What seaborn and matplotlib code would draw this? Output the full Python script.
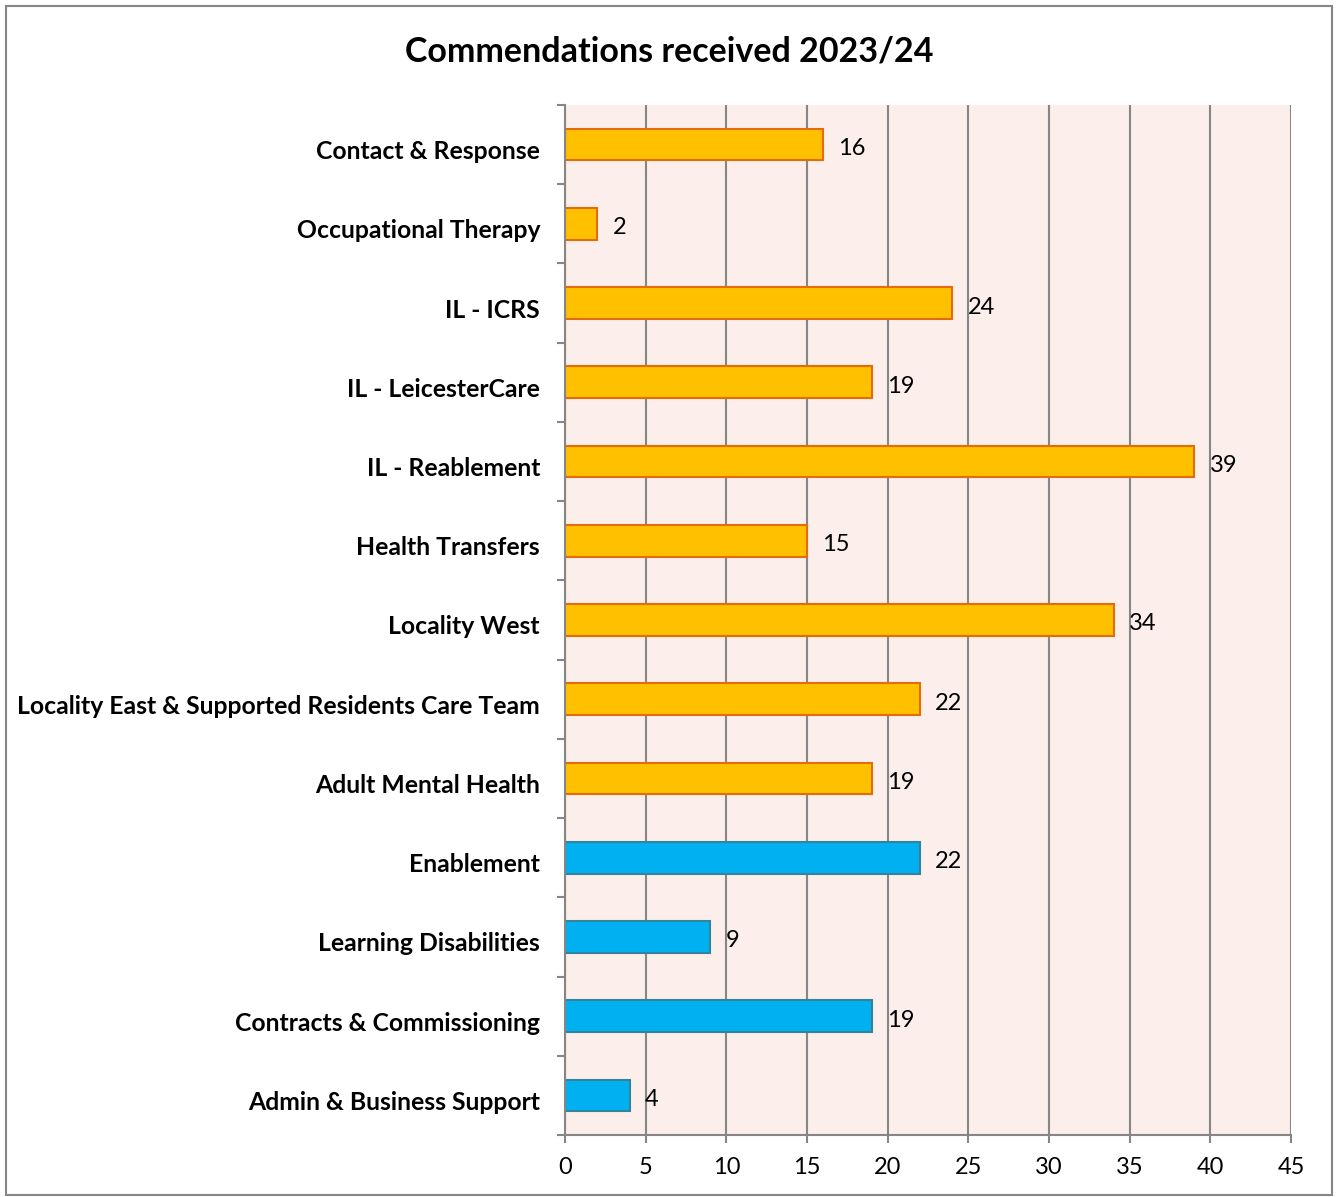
import numpy as np
import pandas as pd
import matplotlib
matplotlib.use('Agg')
import matplotlib.pyplot as plt
import matplotlib.transforms as mtransforms
import seaborn as sns
from matplotlib.patches import Rectangle

# chart data
teams = ['Contact & Response', 'Occupational Therapy', 'IL - ICRS', 'IL - LeicesterCare',
         'IL - Reablement', 'Health Transfers', 'Locality West',
         'Locality East & Supported Residents Care Team', 'Adult Mental Health',
         'Enablement', 'Learning Disabilities', 'Contracts & Commissioning',
         'Admin & Business Support']
commendations = [16, 2, 24, 19, 39, 15, 34, 22, 19, 22, 9, 19, 4]
groups = ['A'] * 9 + ['B'] * 4
x_ticks = [0, 5, 10, 15, 20, 25, 30, 35, 40, 45]

fill_colors = {'A': '#FFC000', 'B': '#00B0F0'}
edge_colors = {'A': '#E46C0A', 'B': '#31849B'}
grey = '#868686'

sns.set_theme(style='white')
plt.rcParams['font.family'] = ['Lato', 'DejaVu Sans']
plt.rcParams['text.color'] = 'black'
plt.rcParams['xtick.color'] = 'black'
plt.rcParams['ytick.color'] = 'black'

df = pd.DataFrame({'team': teams, 'count': commendations, 'group': groups})

fig = plt.figure(figsize=(13.38, 11.97), dpi=100)
ax = fig.add_axes([0.4223, 0.0518, 0.9649 - 0.4223, 0.9123 - 0.0518])
ax.set_facecolor('#FCEEEA')

sns.barplot(data=df, y='team', x='count', hue='group', palette=fill_colors,
            saturation=1, dodge=False, legend=False, width=0.4, orient='h', ax=ax)

# edges per group, same order as the rows
bars = sorted(ax.patches, key=lambda p: p.get_y())
for p, g in zip(bars, groups):
    p.set_edgecolor(edge_colors[g])
    p.set_linewidth(1.5)

for i, v in enumerate(commendations):
    ax.text(v + 0.95, i + 0.05, str(v), va='center', ha='left', fontsize=17, color='black')

n = len(teams)
ax.set_xlim(0, 45)
ax.set_ylim(n - 0.5, -0.5)
ax.set_xticks(x_ticks)
ax.set_xticklabels([str(t) for t in x_ticks], fontsize=17)
ax.set_yticks(range(n))
ax.set_yticklabels(teams, fontsize=17.8, fontweight='bold')
ax.set_yticks(np.arange(-0.5, n), minor=True)
ax.tick_params(axis='y', which='major', length=0, pad=18)
ax.tick_params(axis='y', which='minor', length=6, width=1.5, color=grey, left=True)
ax.tick_params(axis='x', which='major', length=6, width=1.5, color=grey, bottom=True, pad=10)
ax.set_xlabel('')
ax.set_ylabel('')

# category labels sit a little below the bar centre
shift = mtransforms.ScaledTranslation(0, -5 / 100, fig.dpi_scale_trans)
for lbl in ax.get_yticklabels():
    lbl.set_transform(lbl.get_transform() + shift)

ax.xaxis.grid(True, color=grey, linewidth=1.5)
ax.set_axisbelow(True)
for s in ['top', 'right']:
    ax.spines[s].set_visible(False)
for s in ['left', 'bottom']:
    ax.spines[s].set_color(grey)
    ax.spines[s].set_linewidth(1.5)

fig.text(0.5, 0.957, 'Commendations received 2023/24', ha='center', va='center',
         fontsize=24.5, fontweight='bold')

# outer chart border
fig.patches.append(Rectangle((0.0045, 0.002), 0.991, 0.993, transform=fig.transFigure,
                             fill=False, edgecolor=grey, linewidth=1.5))

fig.savefig('out.png', dpi=100)
